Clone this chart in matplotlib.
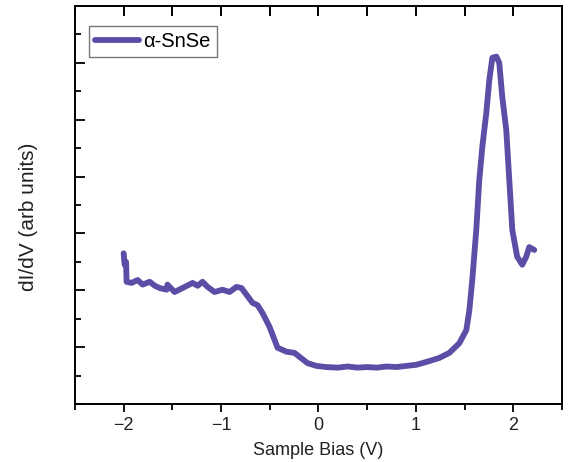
import matplotlib.pyplot as plt
from matplotlib.ticker import MultipleLocator, NullFormatter

plt.rcParams['font.family'] = ['Liberation Sans', 'DejaVu Sans']

# dI/dV spectrum
bias = [-2.00, -1.99, -1.975, -1.97, -1.92, -1.856, -1.805, -1.733, -1.68, -1.63,
        -1.56, -1.55, -1.477, -1.395, -1.292, -1.24, -1.19, -1.138, -1.067, -0.985,
        -0.913, -0.841, -0.79, -0.738, -0.677, -0.626, -0.574, -0.503, -0.451, -0.42,
        -0.328, -0.246, -0.195, -0.113, -0.02, 0.08, 0.2, 0.3, 0.4, 0.5,
        0.6, 0.7, 0.8, 0.9, 1.005, 1.108, 1.24, 1.344, 1.446, 1.518,
        1.549, 1.579, 1.62, 1.651, 1.682, 1.723, 1.754, 1.785, 1.826, 1.856,
        1.887, 1.928, 1.959, 1.99, 2.04, 2.092, 2.133, 2.164, 2.215]
didv = [2.65, 2.45, 2.50, 2.15, 2.13, 2.18, 2.10, 2.15, 2.08, 2.04,
        2.01, 2.10, 1.97, 2.04, 2.13, 2.08, 2.15, 2.06, 1.97, 2.01,
        1.97, 2.06, 2.04, 1.92, 1.78, 1.74, 1.60, 1.36, 1.13, 0.99,
        0.92, 0.90, 0.83, 0.72, 0.67, 0.65, 0.64, 0.66, 0.64, 0.65,
        0.64, 0.66, 0.65, 0.67, 0.69, 0.74, 0.81, 0.90, 1.07, 1.30,
        1.65, 2.18, 3.06, 3.94, 4.52, 5.12, 5.70, 6.09, 6.11, 6.00,
        5.40, 4.82, 3.94, 3.06, 2.59, 2.45, 2.59, 2.76, 2.71]

fig = plt.figure(figsize=(5.72, 4.62), dpi=100)
ax = fig.add_axes([0.131, 0.1255, 0.8515, 0.8615])

ax.plot(bias, didv, color='#5a4ea6', lw=4.2, solid_capstyle='round',
        solid_joinstyle='round', label='α-SnSe')

ax.set_xlim(-2.5, 2.5)
ax.set_ylim(0, 7)
ax.xaxis.set_major_locator(MultipleLocator(1))
ax.xaxis.set_minor_locator(MultipleLocator(0.5))
ax.yaxis.set_major_locator(MultipleLocator(1))
ax.yaxis.set_minor_locator(MultipleLocator(0.5))
ax.yaxis.set_major_formatter(NullFormatter())

# bottom ticks point out
ax.tick_params(axis='x', which='both', direction='out',
               labelsize=13, width=1.3, color='black', labelcolor='#222222', pad=3)
ax.tick_params(axis='x', which='major', length=6)
ax.tick_params(axis='x', which='minor', length=4)
ax.tick_params(axis='y', which='both', direction='in', left=True, right=False,
               width=1.3, color='black')
ax.tick_params(axis='y', which='major', length=7)
ax.tick_params(axis='y', which='minor', length=4)

# top ticks point in (short marks hanging from the top spine)
top_ticks = [t for t in MultipleLocator(0.5).tick_values(-2.5, 2.5) if -2.5 <= t <= 2.5]
ax.vlines(top_ticks, 0.976, 1.0, transform=ax.get_xaxis_transform(),
          colors='black', lw=1.4, clip_on=False)

for s in ax.spines.values():
    s.set_visible(True)
    s.set_linewidth(1.4)
    s.set_color('black')

ax.set_xlabel('Sample Bias (V)', fontsize=13, color='#222222', labelpad=6)
ax.set_ylabel('dI/dV (arb units)', fontsize=15, color='#222222')
ax.yaxis.set_label_coords(-0.075, 0.47)

leg = ax.legend(loc='upper left', fontsize=14.5, fancybox=False, edgecolor='#555555',
                handlelength=2.2, handletextpad=0.2, borderpad=0.3, borderaxespad=0.3,
                bbox_to_anchor=(0.016, 0.966))
leg.get_frame().set_linewidth(1.0)

fig.savefig('out.png', dpi=100)
